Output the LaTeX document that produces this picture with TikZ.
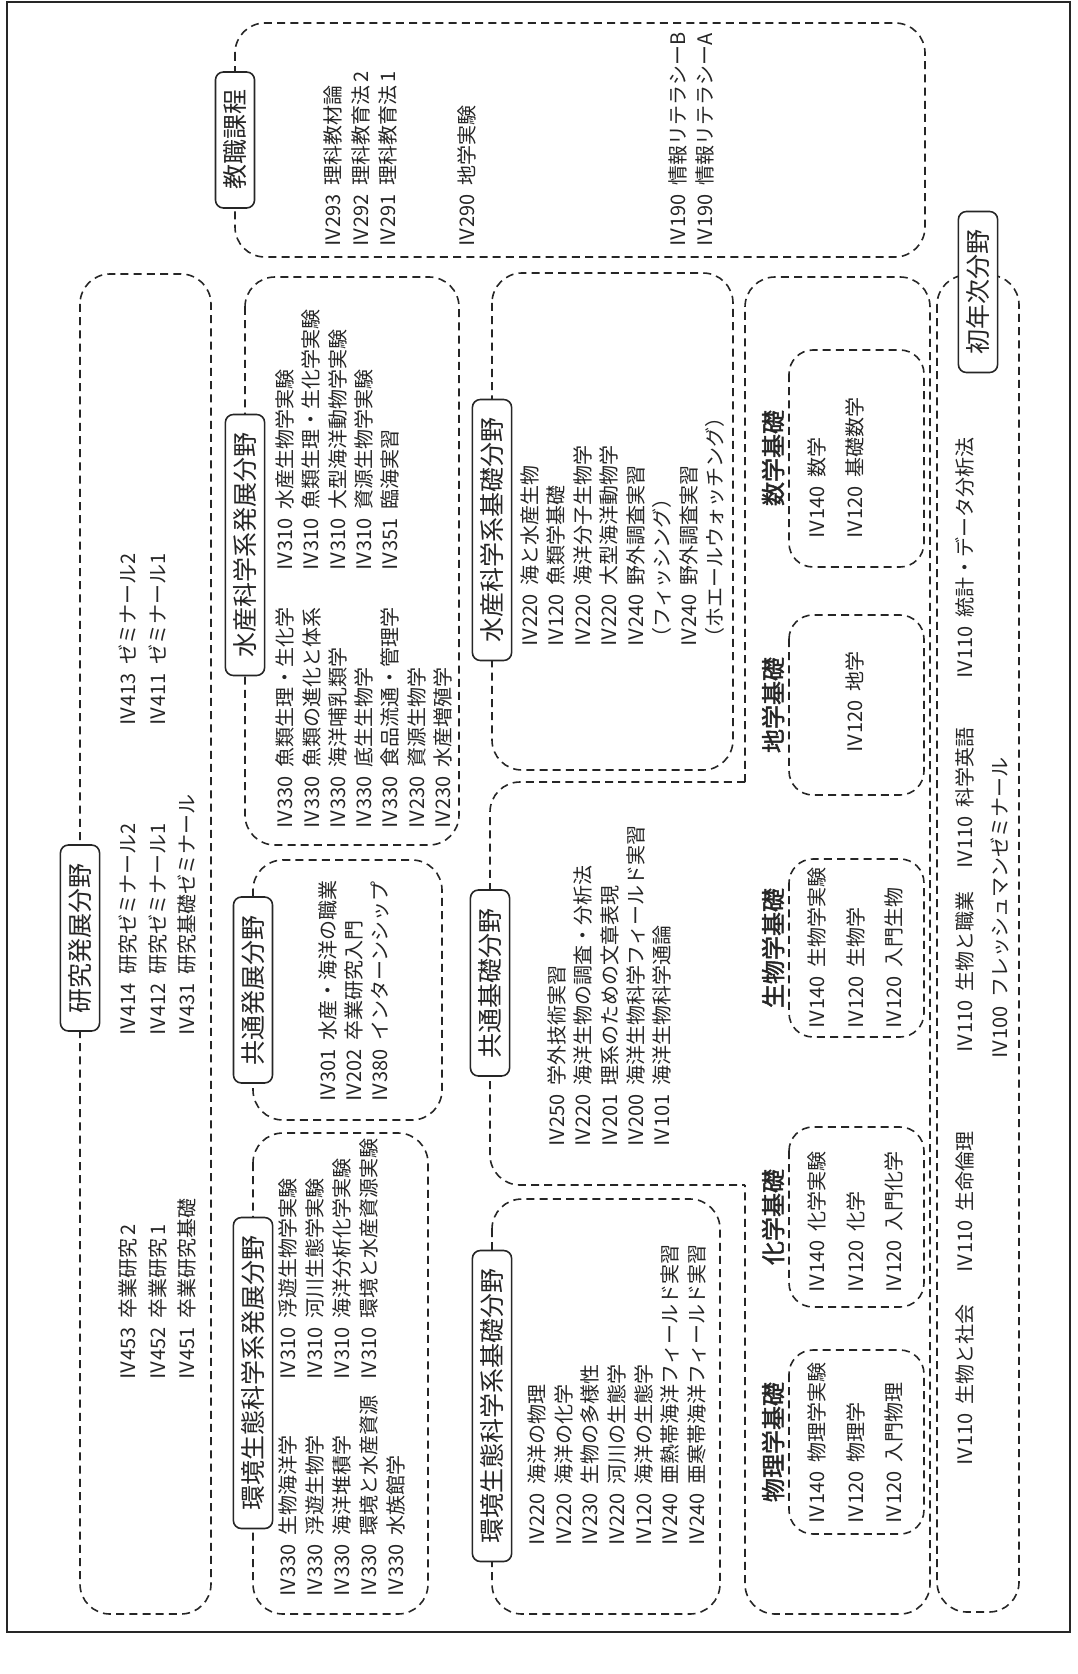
\documentclass[tikz,border=0pt]{standalone}
\usepackage{fontspec}
\setmainfont{Noto Sans CJK JP}[WordSpace=2]
\newfontfamily\heavyfont{Noto Sans CJK JP}[FakeBold=2]

\begin{document}
\begin{tikzpicture}[x=0.5pt,y=-0.5pt,black!85,
  area/.style={draw,line width=.8pt,dash pattern=on 4pt off 2.6pt,rounded corners=15pt},
  tag/.style={draw,fill=white,rotate=90,rounded corners=4pt,line width=.8pt,
    inner xsep=9pt,inner ysep=4pt,font=\fontsize{12.5}{14}\selectfont},
  head/.style={rotate=90,inner sep=0pt,font=\heavyfont\fontsize{12}{14}\selectfont},
  course/.style={rotate=90,anchor=west,align=left,inner sep=0pt,
    font=\fontsize{10}{#1}\selectfont},
  course/.default=13.25pt]
  \useasboundingbox (0,0) rectangle (1077,1674);
  \draw[line width=1pt] (7,2) rectangle (1070,1632);

  \draw[area] (235,23) rectangle (925,257);
  \draw[area] (80,274) rectangle (211,1614);
  \draw[area] (245,277) rectangle (459,845);
  \draw[area] (253,860) rectangle (442,1120);
  \draw[area] (253,1133) rectangle (428,1614);
  \draw[area] (492,273) rectangle (733,770);
  \draw[area] (492,1199) rectangle (720,1614);
  \draw[area] (745,782) -- (490,782) -- (490,1185) -- (745,1185);
  \draw[area] (745,782) -- (745,277) -- (930,277) -- (930,1614) -- (745,1614) -- (745,1185);
  \foreach \a/\b in {350/567,615/795,859/1037,1127/1307,1350/1534}
    \draw[area,rounded corners=12pt] (789,\a) rectangle (924,\b);
  \draw[area] (937,275) rectangle (1019,1612);

  \node[tag] (teach) at (235,140) {教職課程};
  \node[tag] (research) at (80,938) {研究発展分野};
  \node[tag] (fishdev) at (245,545) {水産科学系発展分野};
  \node[tag] (commondev) at (253,990) {共通発展分野};
  \node[tag] (envdev) at (253,1373) {環境生態科学系発展分野};
  \node[tag] (fishbase) at (492,530) {水産科学系基礎分野};
  \node[tag] (commonbase) at (490,983) {共通基礎分野};
  \node[tag] (envbase) at (492,1406) {環境生態科学系基礎分野};
  \node[tag] (first) at (978,292) {初年次分野};

  \node[head] (math) at (773,458) {数学基礎};
  \node[head] (earth) at (773,705) {地学基礎};
  \node[head] (bio) at (773,948) {生物学基礎};
  \node[head] (chem) at (773,1217) {化学基礎};
  \node[head] (phys) at (773,1442) {物理学基礎};

  \node[course=13.75pt] (teachA) at (360.5,248) {Ⅳ293 理科教材論\\Ⅳ292 理科教育法\,2\\Ⅳ291 理科教育法\,1};
  \node[course] (teachB) at (467,248) {Ⅳ290 地学実験};
  \node[course=13.75pt] (teachC) at (691.5,248) {Ⅳ190 情報リテラシーB\\Ⅳ190 情報リテラシーA};

  \node[course=14.75pt] (resA) at (157.5,1381) {Ⅳ453 卒業研究\,2\\Ⅳ452 卒業研究\,1\\Ⅳ451 卒業研究基礎};
  \node[course=14.75pt] (resB) at (157.5,1037) {Ⅳ414 研究ゼミナール2\\Ⅳ412 研究ゼミナール1\\Ⅳ431 研究基礎ゼミナール};
  \node[course=14.75pt] (resC) at (142.5,727) {Ⅳ413 ゼミナール2\\Ⅳ411 ゼミナール1};

  \node[course=13.15pt] (fishdevA) at (364,830) {Ⅳ330 魚類生理・生化学\\Ⅳ330 魚類の進化と体系\\Ⅳ330 海洋哺乳類学\\Ⅳ330 底生生物学\\Ⅳ330 食品流通・管理学\\Ⅳ230 資源生物学\\Ⅳ230 水産増殖学};
  \node[course=13.15pt] (fishdevB) at (337.5,572) {Ⅳ310 水産生物学実験\\Ⅳ310 魚類生理・生化学実験\\Ⅳ310 大型海洋動物学実験\\Ⅳ310 資源生物学実験\\Ⅳ351 臨海実習};

  \node[course=13pt] (commondevA) at (354,1103) {Ⅳ301 水産・海洋の職業\\Ⅳ202 卒業研究入門\\Ⅳ380 インターンシップ};

  \node[course=13.5pt] (envdevA) at (342,1598) {Ⅳ330 生物海洋学\\Ⅳ330 浮遊生物学\\Ⅳ330 海洋堆積学\\Ⅳ330 環境と水産資源\\Ⅳ330 水族館学};
  \node[course=13.5pt] (envdevB) at (328.5,1381) {Ⅳ310 浮遊生物学実験\\Ⅳ310 河川生態学実験\\Ⅳ310 海洋分析化学実験\\Ⅳ310 環境と水産資源実験};

  \node[course] (fishbaseA) at (622.5,648) {Ⅳ220 海と水産生物\\Ⅳ120 魚類学基礎\\Ⅳ220 海洋分子生物学\\Ⅳ220 大型海洋動物学\\Ⅳ240 野外調査実習\\（フィッシング）\\Ⅳ240 野外調査実習\\（ホエールウォッチング）};
  \node[course=13.1pt] (commonbaseA) at (609.5,1148) {Ⅳ250 学外技術実習\\Ⅳ220 海洋生物の調査・分析法\\Ⅳ201 理系のための文章表現\\Ⅳ200 海洋生物科学フィールド実習\\Ⅳ101 海洋生物科学通論};
  \node[course=13.35pt] (envbaseA) at (617,1547) {Ⅳ220 海洋の物理\\Ⅳ220 海洋の化学\\Ⅳ230 生物の多様性\\Ⅳ220 河川の生態学\\Ⅳ120 海洋の生態学\\Ⅳ240 亜熱帯海洋フィールド実習\\Ⅳ240 亜寒帯海洋フィールド実習};

  \node[course=19.25pt] (mathA) at (836,540) {Ⅳ140 数学\\Ⅳ120 基礎数学};
  \node[course] (earthA) at (855,754) {Ⅳ120 地学};
  \node[course=19.25pt] (bioA) at (855.5,1030) {Ⅳ140 生物学実験\\Ⅳ120 生物学\\Ⅳ120 入門生物};
  \node[course=19.25pt] (chemA) at (855.5,1294) {Ⅳ140 化学実験\\Ⅳ120 化学\\Ⅳ120 入門化学};
  \node[course=19.25pt] (physA) at (855.5,1525) {Ⅳ140 物理学実験\\Ⅳ120 物理学\\Ⅳ120 入門物理};

  \node[course] (firstA) at (965,1467) {Ⅳ110 生物と社会};
  \node[course] (firstB) at (965,1274) {Ⅳ110 生命倫理};
  \node[course] (firstC) at (965,1054) {Ⅳ110 生物と職業};
  \node[course] (firstD) at (965,870) {Ⅳ110 科学英語};
  \node[course] (firstE) at (965,680) {Ⅳ110 統計・データ分析法};
  \node[course] (firstF) at (1000,1060) {Ⅳ100 フレッシュマンゼミナール};
\end{tikzpicture}
\end{document}
